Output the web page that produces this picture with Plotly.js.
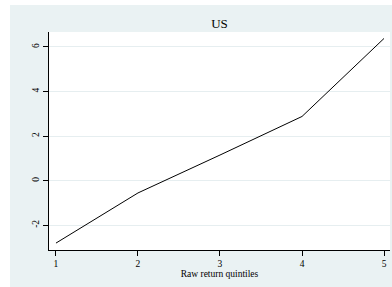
<!DOCTYPE html>
<html><head><meta charset="utf-8">
<script src="https://cdn.plot.ly/plotly-3.0.1.min.js"></script>
<style>
html,body{margin:0;padding:0;background:#ffffff;width:392px;height:287px;overflow:hidden;}
#chart{position:absolute;left:10px;top:5px;width:382px;height:282px;}
</style></head>
<body><div id="chart"></div>
<script>
var quintiles = [1, 2, 3, 4, 5];
var returns = [-2.8, -0.55, 1.15, 2.88, 6.38];
var yTicks = [-2, 0, 2, 4, 6];
var xTicks = [1, 2, 3, 4, 5];

var font = {family: 'Liberation Serif, Times New Roman, serif', color: '#000000'};
var trace = {
  x: quintiles, y: returns, type: 'scatter', mode: 'lines',
  line: {color: '#000000', width: 1}, hoverinfo: 'skip'
};
var layout = {
  width: 382, height: 282,
  margin: {l: 39, r: 2, t: 27, b: 37, pad: 0},
  paper_bgcolor: '#EAF2F3', plot_bgcolor: '#ffffff',
  showlegend: false,
  font: {family: font.family, size: 9.5, color: '#000'},
  title: {text: 'US', font: {family: font.family, size: 13, color: '#000'}, x: 0.5, xref: 'paper', xanchor: 'center', y: 0.936, yref: 'container', yanchor: 'middle'},
  xaxis: {
    range: [0.915, 5.073], tickvals: xTicks, ticktext: xTicks.map(String),
    showgrid: false, zeroline: false, showline: true, linecolor: '#000', linewidth: 1,
    ticks: 'outside', ticklen: 5, tickcolor: '#000', tickwidth: 1,
    tickfont: {family: font.family, size: 9.5, color: '#000'},
    title: {text: 'Raw return quintiles', font: {family: font.family, size: 9.5, color: '#000'}, standoff: 0}
  },
  yaxis: {
    range: [-3.11, 6.67], tickvals: yTicks, ticktext: yTicks.map(String),
    showgrid: true, gridcolor: '#E6EEF0', gridwidth: 1, zeroline: false,
    showline: true, linecolor: '#000', linewidth: 1,
    ticks: 'outside', ticklen: 5, tickcolor: '#000', tickwidth: 1,
    tickangle: -90,
    tickfont: {family: font.family, size: 9.5, color: '#000'}
  }
};
Plotly.newPlot('chart', [trace], layout, {staticPlot: true, displayModeBar: false});
</script></body></html>
